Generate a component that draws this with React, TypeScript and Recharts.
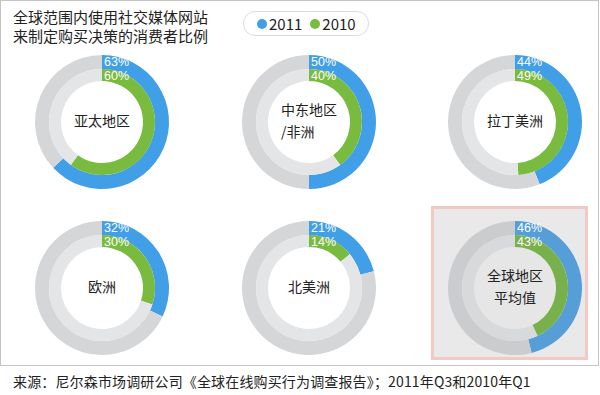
import React from 'react';
import { PieChart, Pie, Cell } from 'recharts';

const titleLines = ['全球范围内使用社交媒体网站', '来制定购买决策的消费者比例'];
const seriesNames = ['2011', '2010'];
const regionLabels = [['亚太地区'], ['中东地区', '/非洲'], ['拉丁美洲'], ['欧洲'], ['北美洲'], ['全球地区', '平均值']];
const share2011 = [63, 50, 44, 32, 21, 46];
const share2010 = [60, 40, 49, 30, 14, 43];
const sourceNote = '来源：尼尔森市场调研公司《全球在线购买行为调查报告》；2011年Q3和2010年Q1';

const FONT = '"Noto Sans CJK SC", "Noto Sans", sans-serif';
const NUMFONT = '"Liberation Sans", Arial, sans-serif';
const colX = [97, 304, 510];
const rowY = [117, 283];

const normal = { blue: '#419fe7', green: '#78bb3e', track1: '#d5d6d8', track2: '#e4e5e7', hole: '#ffffff' };
const hilite = { blue: '#559ed8', green: '#78b14c', track1: '#cbcccd', track2: '#d8d9db', hole: '#e6e6e6' };

function makeLabel(value: number, lines: string[] | null, shift: number) {
  return (props: any) => {
    if (props.index !== 0) return null;
    const { cx, cy, innerRadius, outerRadius } = props;
    const r = (innerRadius + outerRadius) / 2 + shift;
    return (
      <g>
        <text x={cx + 2} y={cy - r} dy="0.36em" textAnchor="start" fill="#ffffff" fontSize={12.5} fontFamily={NUMFONT}>
          {value}%
        </text>
        {lines &&
          lines.map((ln, k) => {
            const dy = (k - (lines.length - 1) / 2) * 22;
            const start = ln.startsWith('/');
            return (
              <text key={k} x={start ? cx - 28 : cx} y={cy + dy - 1} dy="0.36em" textAnchor={start ? 'start' : 'middle'} fill="#222" fontSize={14} fontFamily={FONT}>
                {ln}
              </text>
            );
          })}
      </g>
    );
  };
}

export default function App() {
  return (
    <div style={{ position: 'absolute', left: 0, top: 0, width: 600, height: 395, background: '#fff', fontFamily: FONT }}>
      <div style={{ position: 'absolute', left: 0, top: 0, width: 597, height: 364, border: '1px solid #c4c4c4' }} />
      <div style={{ position: 'absolute', left: 431, top: 206, width: 151, height: 148, border: '3px solid #f2c9c4', background: '#e9e9e9' }} />
      <div style={{ position: 'absolute', left: 13, top: 7, fontSize: 15, lineHeight: '19px', color: '#222' }}>
        {titleLines.map((t, i) => (
          <div key={i}>{t}</div>
        ))}
      </div>
      <div style={{ position: 'absolute', left: 243, top: 11, width: 124, height: 23, border: '1px solid #dcdcdc', borderRadius: 12, display: 'flex', alignItems: 'center', fontSize: 15, color: '#222' }}>
        {seriesNames.map((s, i) => (
          <div key={i} style={{ display: 'flex', alignItems: 'center', marginLeft: i === 0 ? 13 : 8 }}>
            <span style={{ display: 'inline-block', width: 10, height: 10, borderRadius: 5, background: i === 0 ? normal.blue : normal.green, marginRight: 2 }} />
            <span>{s}</span>
          </div>
        ))}
      </div>
      <div style={{ position: 'absolute', left: 13, top: 371, fontSize: 14, lineHeight: '20px', letterSpacing: 0.15, color: '#222', whiteSpace: 'nowrap' }}>{sourceNote}</div>
      <div style={{ position: 'absolute', left: 0, top: 0 }}>
        <PieChart width={600} height={395}>
          {regionLabels.map((lines, i) => {
            const cx = colX[i % 3];
            const cy = rowY[Math.floor(i / 3)];
            const c = i === 5 ? hilite : normal;
            const d1 = [{ name: '2011', value: share2011[i] }, { name: 'rest', value: 100 - share2011[i] }];
            const d2 = [{ name: '2010', value: share2010[i] }, { name: 'rest', value: 100 - share2010[i] }];
            return [
              <Pie key={'h' + i} data={[{ value: 1 }]} dataKey="value" cx={cx} cy={cy} innerRadius={0} outerRadius={41} startAngle={90} endAngle={-270} isAnimationActive={false} stroke="none">
                <Cell fill={c.hole} />
              </Pie>,
              <Pie key={'a' + i} data={d1} dataKey="value" cx={cx} cy={cy} innerRadius={53} outerRadius={67} startAngle={90} endAngle={-270} isAnimationActive={false} stroke="none" labelLine={false} label={makeLabel(share2011[i], null, 0.5)}>
                <Cell fill={c.blue} />
                <Cell fill={c.track1} />
              </Pie>,
              <Pie key={'b' + i} data={d2} dataKey="value" cx={cx} cy={cy} innerRadius={41} outerRadius={53} startAngle={90} endAngle={-270} isAnimationActive={false} stroke="none" labelLine={false} label={makeLabel(share2010[i], lines, -0.5)}>
                <Cell fill={c.green} />
                <Cell fill={c.track2} />
              </Pie>,
            ];
          })}
        </PieChart>
      </div>
    </div>
  );
}
